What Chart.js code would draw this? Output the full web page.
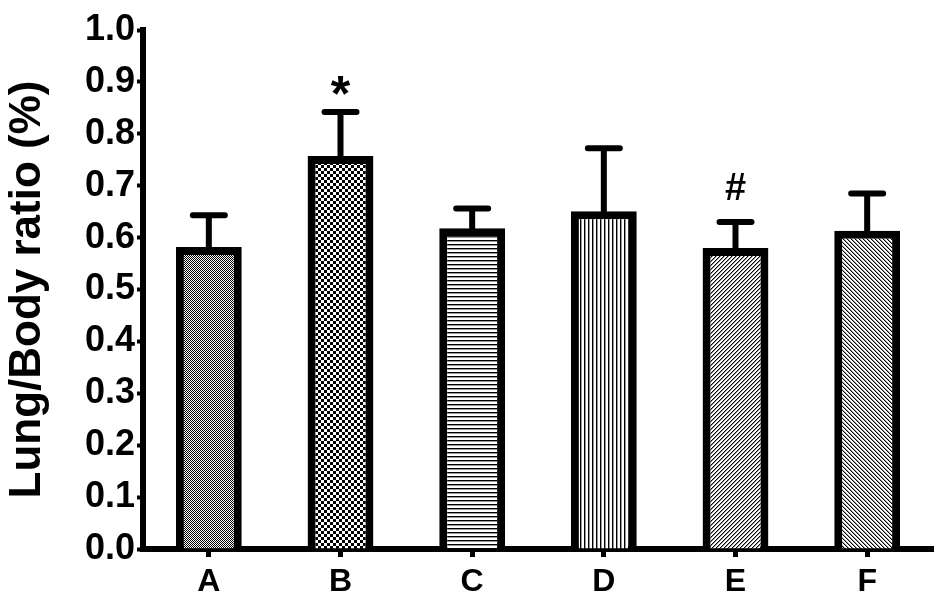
<!DOCTYPE html>
<html>
<head>
<meta charset="utf-8">
<script src="https://cdn.jsdelivr.net/npm/chart.js@4/dist/chart.umd.min.js"></script>
<style>
  html, body { margin: 0; padding: 0; background: #fff; }
  #wrap { width: 945px; height: 605px; }
</style>
</head>
<body>
<div id="wrap"><canvas id="c" width="945" height="605"></canvas></div>
<script>
// ---- data ----
const categories = ['A', 'B', 'C', 'D', 'E', 'F'];
const means = [0.582, 0.757, 0.618, 0.651, 0.580, 0.613];
const errorTops = [0.643, 0.842, 0.656, 0.772, 0.630, 0.685];
const significance = ['', '*', '', '', '#', ''];
const yTicks = [0.0, 0.1, 0.2, 0.3, 0.4, 0.5, 0.6, 0.7, 0.8, 0.9, 1.0];

// ---- fill patterns ----
function makePattern(size, draw) {
  const cv = document.createElement('canvas');
  cv.width = size; cv.height = size;
  const g = cv.getContext('2d');
  g.fillStyle = '#fff'; g.fillRect(0, 0, size, size);
  draw(g, size);
  return document.getElementById('c').getContext('2d').createPattern(cv, 'repeat');
}
const patterns = [
  // A: fine checker
  makePattern(2, (g) => { g.fillStyle = '#000'; g.fillRect(0, 0, 1, 1); g.fillRect(1, 1, 1, 1); }),
  // B: coarse checker
  makePattern(6, (g) => { g.fillStyle = '#000'; g.fillRect(0, 0, 3, 3); g.fillRect(3, 3, 3, 3); }),
  // C: horizontal lines
  makePattern(4, (g) => { g.fillStyle = '#000'; g.fillRect(0, 0, 4, 1); g.fillStyle = '#999'; g.fillRect(0, 1, 4, 1); }),
  // D: vertical lines
  makePattern(4, (g) => { g.fillStyle = '#000'; g.fillRect(0, 0, 1, 4); g.fillStyle = '#999'; g.fillRect(1, 0, 1, 4); }),
  // E: "/" diagonal
  makePattern(4, (g) => { for (let i = 0; i < 4; i++) { g.fillStyle = '#000'; g.fillRect(3 - i, i, 1, 1); g.fillStyle = '#999'; g.fillRect((4 - i) % 4, i, 1, 1); } }),
  // F: "\" diagonal
  makePattern(4, (g) => { for (let i = 0; i < 4; i++) { g.fillStyle = '#000'; g.fillRect(i, i, 1, 1); g.fillStyle = '#999'; g.fillRect((i + 1) % 4, i, 1, 1); } })
];

const FONT = "'Liberation Sans', Arial, Helvetica, sans-serif";

const errorBarPlugin = {
  id: 'errorBars',
  afterDatasetsDraw(chart) {
    const { ctx, scales: { x, y } } = chart;
    ctx.save();
    ctx.strokeStyle = '#000';
    ctx.lineCap = 'round';
    ctx.lineWidth = 6;
    categories.forEach((c, i) => {
      const px = x.getPixelForValue(i);
      const yTop = y.getPixelForValue(errorTops[i]);
      const yBar = y.getPixelForValue(means[i]);
      ctx.beginPath();
      ctx.moveTo(px, yBar + 4);
      ctx.lineTo(px, yTop);
      ctx.moveTo(px - 16, yTop);
      ctx.lineTo(px + 16, yTop);
      ctx.stroke();
      const s = significance[i];
      if (s) {
        ctx.fillStyle = '#000';
        ctx.textAlign = 'center';
        ctx.textBaseline = 'alphabetic';
        if (s === '*') {
          ctx.font = 'bold 50px ' + FONT;
          ctx.fillText(s, px, yTop - 1);
        } else {
          ctx.font = 'bold 38px ' + FONT;
          ctx.fillText(s, px, yTop - 22);
        }
      }
    });
    ctx.restore();
  }
};

new Chart(document.getElementById('c'), {
  type: 'bar',
  data: {
    labels: categories,
    datasets: [{
      data: means,
      backgroundColor: patterns,
      borderColor: '#000',
      borderWidth: 8,
      borderSkipped: 'bottom',
      barPercentage: 0.5,
      categoryPercentage: 1.0
    }]
  },
  options: {
    responsive: false,
    animation: false,
    devicePixelRatio: 1,
    layout: { padding: { top: 30, right: 12, left: 0, bottom: 0 } },
    plugins: { legend: { display: false }, tooltip: { enabled: false } },
    scales: {
      x: {
        grid: { display: true, drawOnChartArea: false, offset: false, tickLength: 8, tickWidth: 5, tickColor: '#000' },
        border: { display: true, color: '#000', width: 6 },
        ticks: { color: '#000', padding: 6, font: { family: FONT, size: 32, weight: 'bold' } },
        afterFit(scale) { scale.height = 56; }
      },
      y: {
        min: 0, max: 1,
        afterBuildTicks(scale) { scale.ticks = yTicks.map(v => ({ value: v })); },
        grid: { display: true, drawOnChartArea: false, tickLength: 6, tickWidth: 4, tickColor: '#000' },
        border: { display: true, color: '#000', width: 6 },
        ticks: {
          color: '#000', padding: 2,
          font: { family: FONT, size: 36, weight: 'bold' },
          callback: (v) => Number(v).toFixed(1)
        },
        title: {
          display: true, text: 'Lung/Body ratio (%)', color: '#000',
          font: { family: FONT, size: 44, weight: 'bold', lineHeight: 1 },
          padding: { top: 6, bottom: 0 }
        },
        afterFit(scale) { scale.width = 143; }
      }
    }
  },
  plugins: [errorBarPlugin]
});
</script>
</body>
</html>
